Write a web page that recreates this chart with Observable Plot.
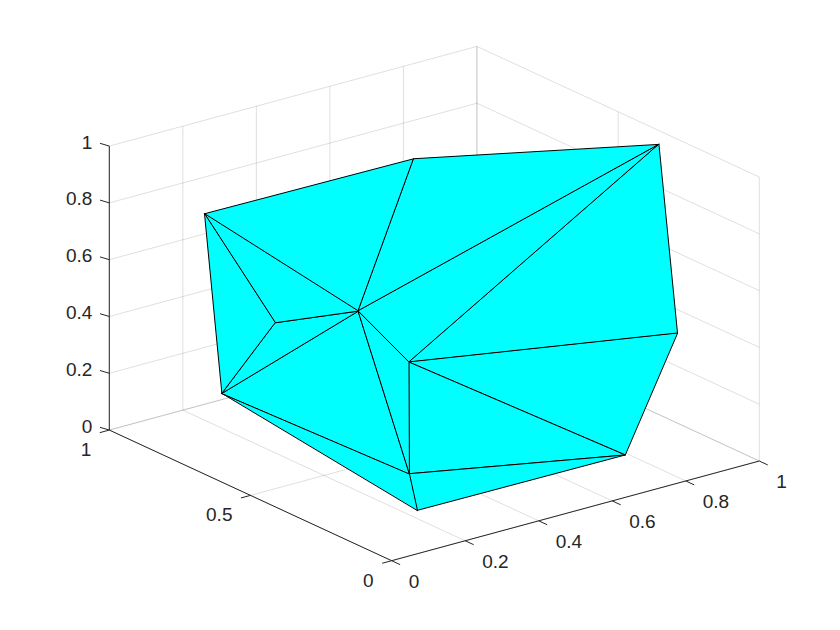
<!DOCTYPE html>
<html>
<head>
<meta charset="utf-8">
<style>html,body{margin:0;padding:0;background:#fff}svg{display:block}</style>
<script src="https://cdn.jsdelivr.net/npm/d3@7"></script>
<script src="https://cdn.jsdelivr.net/npm/@observablehq/plot@0.6"></script>
</head>
<body>
<div id="chart"></div>
<script>
// Vertices of the surface (A..K)
const vertexX = [0.123, 0.528, 0.949, 0.912, 0.740, 0.210, 0.195, 0.187, 0.131, 0.103, 0.224];
const vertexY = [0.823, 0.609, 0.289, 0.175, 0.136, 0.182, 0.191, 0.182, 0.289, 0.547, 0.893];
const vertexZ = [0.80, 0.95, 1.00, 0.40, 0.05, 0.02, 0.15, 0.55, 0.70, 0.55, 0.10];
// Triangles (indices into the vertices)
const faces = [
  [0,1,8],[1,2,8],[2,7,8],[2,3,7],[3,4,7],[7,4,6],[6,4,5],
  [10,6,5],[10,8,6],[8,7,6],[10,9,8],[0,9,8],[0,10,9]
];
const xTicks = [0, 0.2, 0.4, 0.6, 0.8, 1];
const yTicks = [0, 0.5, 1];
const zTicks = [0, 0.2, 0.4, 0.6, 0.8, 1];

// Axonometric view: 3D data -> the two plane coordinates fed to Plot's scales
const U = (x, y) => x - 0.768 * y;
const V = (x, y, z) => 0.351 * x + 0.460 * y + z;
const seg = (a, b) => ({x1: U(a[0], a[1]), y1: V(...a), x2: U(b[0], b[1]), y2: V(...b)});
const pt = (label, p) => ({label: String(label), u: U(p[0], p[1]), v: V(...p)});

const grid = [
  ...xTicks.flatMap(t => [seg([t,0,0],[t,1,0]), seg([t,1,0],[t,1,1])]),
  ...yTicks.flatMap(t => [seg([0,t,0],[1,t,0]), seg([1,t,0],[1,t,1])]),
  ...zTicks.flatMap(t => [seg([0,1,t],[1,1,t]), seg([1,1,t],[1,0,t])])
];
const axes = [
  seg([0,0,0],[1,0,0]), seg([0,0,0],[0,1,0]), seg([0,1,0],[0,1,1]),
  ...xTicks.map(t => seg([t,0,0],[t,-0.03,0])),
  ...yTicks.map(t => seg([0,t,0],[-0.026,t,0])),
  ...zTicks.map(t => seg([0,1,t],[-0.0253,1,t+0.0187]))
];
const facePoints = faces.flatMap((f, i) => f.map(k => ({
  face: i,
  u: U(vertexX[k], vertexY[k]),
  v: V(vertexX[k], vertexY[k], vertexZ[k])
})));

const ink = "#262626";
const font = {fontSize: 19, fontFamily: "'Liberation Sans', Arial, sans-serif", fill: ink, lineAnchor: "middle"};
const links = {x1: "x1", y1: "y1", x2: "x2", y2: "y2"};

const chart = Plot.plot({
  width: 840, height: 630,
  marginTop: 0, marginRight: 0, marginBottom: 0, marginLeft: 0,
  style: {background: "#fff"},
  x: {domain: [-0.768, 1], range: [108.8, 758.8], axis: null},
  y: {domain: [0, 1.81], range: [560.2, 46.2], axis: null},
  marks: [
    Plot.link(grid, {...links, stroke: ink, strokeOpacity: 0.15, strokeWidth: 1}),
    Plot.link(axes, {...links, stroke: ink, strokeWidth: 1}),
    Plot.line(facePoints, {x: "u", y: "v", z: "face", curve: "linear-closed",
      fill: "#00ffff", stroke: "#000", strokeWidth: 1, strokeLinejoin: "miter"}),
    Plot.text(xTicks.map(t => pt(t, [t,0,0])), {...font, x: "u", y: "v", text: "label", textAnchor: "start", dx: 17, dy: 21}),
    Plot.text(yTicks.map(t => pt(t, [0,t,0])), {...font, x: "u", y: "v", text: "label", textAnchor: "end", dx: -18, dy: 20}),
    Plot.text(zTicks.map(t => pt(t, [0,1,t])), {...font, x: "u", y: "v", text: "label", textAnchor: "end", dx: -17, dy: -3.5})
  ]
});
document.getElementById("chart").append(chart);
</script>
</body>
</html>
